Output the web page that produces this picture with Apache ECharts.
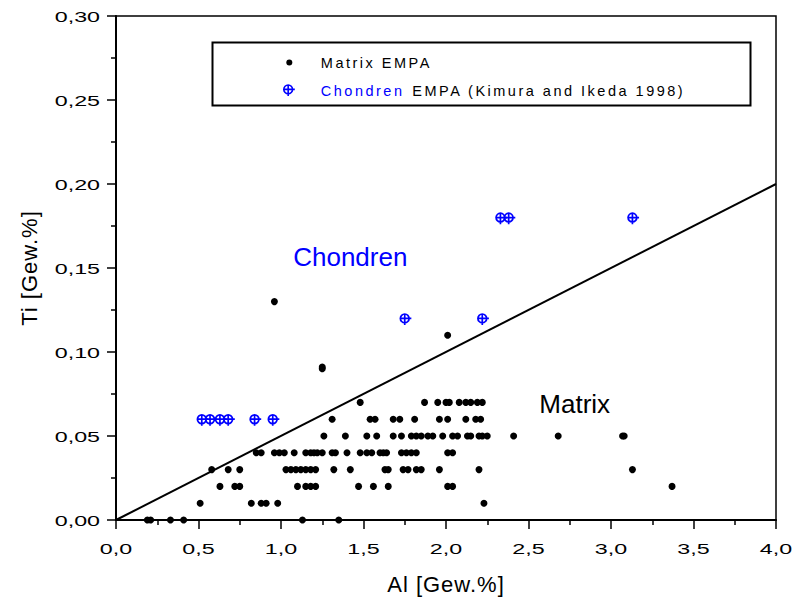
<!DOCTYPE html>
<html>
<head>
<meta charset="utf-8">
<script src="https://cdn.jsdelivr.net/npm/echarts@6/dist/echarts.min.js"></script>
<style>
  html, body { margin: 0; padding: 0; background: #fff; }
  #chart { width: 796px; height: 608px; }
  /* spaced lettering for the legend and the axis names */
  #chart text[style*="14.5px"] { letter-spacing: 2.5px; }
  #chart text[style*="22px"] { letter-spacing: 1px; }
</style>
</head>
<body>
<div id="chart"></div>
<script>
// Ti levels of the matrix analyses (Gew.%) and the Al values measured at each level
const tiLevels = [0.00, 0.01, 0.02, 0.03, 0.04, 0.05, 0.06, 0.07];
const alAtTi000 = [0.19, 0.21, 0.33, 0.41, 1.13, 1.35];
const alAtTi001 = [0.51, 0.82, 0.88, 0.91, 0.98, 2.23];
const alAtTi002 = [0.63, 0.72, 0.75, 1.10, 1.15, 1.18, 1.21, 1.47, 1.56, 1.65, 2.01, 2.04, 3.37];
const alAtTi003 = [0.58, 0.68, 0.75, 1.03, 1.06, 1.09, 1.12, 1.15, 1.18, 1.21, 1.32, 1.42, 1.63, 1.65,
                   1.74, 1.77, 1.82, 1.85, 1.96, 2.20, 3.13];
const alAtTi004 = [0.85, 0.88, 0.96, 0.99, 1.02, 1.08, 1.15, 1.18, 1.20, 1.22, 1.25, 1.31, 1.33, 1.40,
                   1.48, 1.52, 1.55, 1.60, 1.62, 1.64, 1.73, 1.76, 1.79, 1.82, 2.01, 2.04];
const alAtTi005 = [1.26, 1.39, 1.52, 1.58, 1.68, 1.73, 1.79, 1.82, 1.85, 1.89, 1.92, 1.98, 2.04, 2.07,
                   2.13, 2.15, 2.20, 2.22, 2.25, 2.41, 2.68, 3.07, 3.08];
const alAtTi006 = [1.31, 1.54, 1.57, 1.68, 1.72, 1.81, 1.96, 2.01, 2.12, 2.18, 2.21];
const alAtTi007 = [1.48, 1.87, 1.95, 2.00, 2.02, 2.08, 2.12, 2.15, 2.19, 2.22];

// Matrix analyses with higher Ti
const matrixHighAl = [0.96, 1.25, 1.25, 2.01];
const matrixHighTi = [0.130, 0.090, 0.091, 0.110];

// Chondrules, EMPA (Kimura and Ikeda 1998)
const chondrenAl = [0.52, 0.57, 0.63, 0.68, 0.84, 0.95, 1.75, 2.22, 2.33, 2.38, 3.13];
const chondrenTi = [0.06, 0.06, 0.06, 0.06, 0.06, 0.06, 0.12, 0.12, 0.18, 0.18, 0.18];

// Reference line Ti/Al
const refLineAl = [0.0, 4.0];
const refLineTi = [0.0, 0.20];

// Field labels
const fieldNames = ['Chondren', 'Matrix'];
const fieldAl = [1.42, 2.78];
const fieldTi = [0.1565, 0.069];

// Tick labels
const xTickLabels = ['0,0', '0,5', '1,0', '1,5', '2,0', '2,5', '3,0', '3,5', '4,0'];
const yTickLabels = ['0,00', '0,05', '0,10', '0,15', '0,20', '0,25', '0,30'];

// Legend texts
const legendMatrix = 'Matrix EMPA';
const legendChondrenHead = 'Chondren';
const legendChondrenTail = ' EMPA (Kimura and Ikeda 1998)';

const FONT = "'Liberation Sans', Arial, Helvetica, sans-serif";
const BLUE = '#0000ff';
const TICK_SIZE = 15.5;    // tick label font size
const LEGEND_SIZE = 14.5;  // legend font size

// horizontal widening of the tick lettering
const TICK_WIDEN = 1.5;
const tickTextSet = new Set(xTickLabels.concat(yTickLabels));

const rowsAl = [alAtTi000, alAtTi001, alAtTi002, alAtTi003, alAtTi004, alAtTi005, alAtTi006, alAtTi007];
const matrixData = [];
rowsAl.forEach((row, i) => row.forEach(al => matrixData.push([al, tiLevels[i]])));
matrixHighAl.forEach((al, i) => matrixData.push([al, matrixHighTi[i]]));

const chondrenData = chondrenAl.map((al, i) => [al, chondrenTi[i]]);
const refLineData = refLineAl.map((al, i) => [al, refLineTi[i]]);
const fieldData = fieldNames.map((n, i) => ({
  name: n,
  value: [fieldAl[i], fieldTi[i]],
  label: { color: n === 'Chondren' ? BLUE : '#000' }
}));

// circle with cross hairs, tails to the right and below
const crossSymbol = 'path://M0.7,5A4.3,4.3,0,1,1,9.3,5A4.3,4.3,0,1,1,0.7,5ZM5,0.7L5,11.5M0.7,5L11.5,5';
// small dot inside a larger empty box for the legend
const dotIcon = 'path://M0,0M11,11M8.5,5.5A3,3,0,1,1,2.5,5.5A3,3,0,1,1,8.5,5.5Z';

const axisCommon = {
  type: 'value',
  nameLocation: 'middle',
  nameTextStyle: { fontSize: 22, color: '#000', fontFamily: FONT },
  axisLine: { show: true, onZero: false, lineStyle: { color: '#000', width: 2 } },
  axisTick: { show: true, inside: false, length: 9, lineStyle: { color: '#000', width: 1.5 } },
  minorTick: { show: true, splitNumber: 2, length: 5, lineStyle: { color: '#000', width: 1.5 } },
  splitLine: { show: false },
  minorSplitLine: { show: false }
};

const chart = echarts.init(document.getElementById('chart'), null, { renderer: 'svg', width: 796, height: 608 });

// widen the tick lettering; re-measures whenever a text node changes
function widenText() {
  document.querySelectorAll('#chart svg text').forEach(t => {
    const txt = (t.textContent || '').trim();
    if (!tickTextSet.has(txt)) return;
    if (t.dataset.widened === txt && t.hasAttribute('textLength')) return;
    t.removeAttribute('textLength');
    t.removeAttribute('lengthAdjust');
    const w = t.getComputedTextLength();
    if (!w) return;
    t.setAttribute('textLength', (w * TICK_WIDEN).toFixed(2));
    t.setAttribute('lengthAdjust', 'spacingAndGlyphs');
    t.dataset.widened = txt;
  });
}
chart.on('finished', widenText);
chart.on('rendered', widenText);

chart.setOption({
  animation: false,
  backgroundColor: '#fff',
  textStyle: { fontFamily: FONT },
  grid: {
    left: 116, right: 20, top: 16, bottom: 88,
    show: true, borderColor: '#000', borderWidth: 1.5, backgroundColor: 'transparent'
  },
  xAxis: Object.assign({}, axisCommon, {
    min: 0, max: 4, interval: 0.5,
    name: 'Al [Gew.%]', nameGap: 53,
    axisLabel: {
      fontSize: TICK_SIZE, color: '#000', margin: 20, fontFamily: FONT,
      formatter: v => xTickLabels[Math.round(v / 0.5)]
    }
  }),
  yAxis: Object.assign({}, axisCommon, {
    min: 0, max: 0.3, interval: 0.05,
    name: 'Ti [Gew.%]', nameGap: 76,
    axisLabel: {
      fontSize: TICK_SIZE, color: '#000', margin: 16, fontFamily: FONT,
      formatter: v => yTickLabels[Math.round(v / 0.05)]
    }
  }),
  legend: {
    orient: 'vertical',
    left: 278, top: 50,
    itemWidth: 11, itemHeight: 11, itemGap: 13,
    selectedMode: false,
    textStyle: {
      fontSize: LEGEND_SIZE, color: '#000', fontFamily: FONT,
      rich: {
        gap: { width: 21 },
        plain: { color: '#000', fontSize: LEGEND_SIZE, fontFamily: FONT },
        blue: { color: BLUE, fontSize: LEGEND_SIZE, fontFamily: FONT, width: 85 }
      }
    },
    data: [
      { name: 'Matrix EMPA', icon: dotIcon },
      { name: 'Chondren EMPA', icon: crossSymbol, itemStyle: { borderWidth: 1.6 } }
    ],
    formatter: name => name === 'Matrix EMPA'
      ? '{gap|}{plain|' + legendMatrix + '}'
      : '{gap|}{blue|' + legendChondrenHead + '}{plain|' + legendChondrenTail + '}'
  },
  graphic: [{
    type: 'rect',
    left: 210, top: 40,
    shape: { width: 538, height: 63 },
    style: { fill: 'none', stroke: '#000', lineWidth: 2 },
    silent: true
  }],
  series: [
    {
      name: 'Ti/Al',
      type: 'line',
      data: refLineData,
      symbol: 'none',
      lineStyle: { color: '#000', width: 2 },
      silent: true,
      z: 1
    },
    {
      name: 'Matrix EMPA',
      type: 'scatter',
      data: matrixData,
      symbol: 'circle',
      symbolSize: 7,
      itemStyle: { color: '#000', opacity: 1 },
      z: 3
    },
    {
      name: 'Chondren EMPA',
      type: 'scatter',
      data: chondrenData,
      symbol: crossSymbol,
      symbolSize: 11,
      symbolOffset: [1.1, 1.1],
      itemStyle: { color: 'rgba(0,0,0,0)', borderColor: BLUE, borderWidth: 1.7, opacity: 1 },
      z: 4
    },
    {
      name: 'fields',
      type: 'scatter',
      data: fieldData,
      symbolSize: 0,
      silent: true,
      itemStyle: { opacity: 1 },
      label: { show: true, position: 'inside', formatter: '{b}', fontSize: 26, fontFamily: FONT },
      z: 5
    }
  ]
});
widenText();
requestAnimationFrame(() => requestAnimationFrame(widenText));
setTimeout(widenText, 50);
setTimeout(widenText, 300);
</script>
</body>
</html>
